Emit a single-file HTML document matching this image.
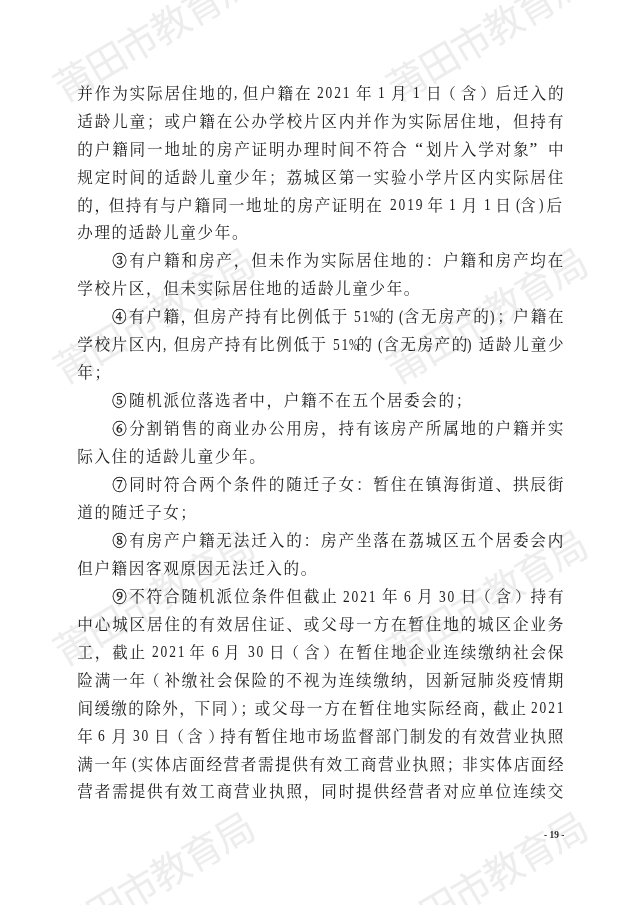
<!DOCTYPE html>
<html lang="zh-CN">
<head>
<meta charset="utf-8">
<title>莆田市教育局</title>
<style>
html,body{margin:0;padding:0;background:#fff;}
body{width:640px;height:905px;position:relative;overflow:hidden;}
.page{position:absolute;left:0;top:0;width:640px;height:905px;overflow:hidden;background:#fff;filter:grayscale(1);}
.wm{position:absolute;width:223.2px;height:38.8px;text-align:center;white-space:nowrap;font-family:"Liberation Sans","Noto Sans CJK SC",sans-serif;font-weight:400;font-size:38.8px;line-height:38.8px;letter-spacing:-1.6px;color:#ededed;transform:rotate(-30.5deg);}
.ln{position:absolute;left:0;width:640px;height:24.0px;line-height:24.0px;white-space:nowrap;color:#1c1c1c;}
.ln span{position:absolute;top:0;white-space:pre;}
.ln i{position:relative;font-style:normal;}
.ln b{font-weight:500;font-size:14.6px;display:inline-block;width:15.6px;text-align:center;letter-spacing:0;margin-right:1.83px;-webkit-text-stroke:0.3px #1c1c1c;}
.c{font-family:"Liberation Serif","Noto Serif CJK SC",serif;font-weight:400;font-size:15.6px;margin-top:0.0px;}
.l{font-family:"Liberation Serif","Noto Serif CJK SC",serif;font-size:17.7px;margin-top:-1.3px;display:inline-block;transform:scaleX(0.76);transform-origin:0 50%;letter-spacing:2.466px;}
.ln span.p{transform:scaleX(0.63);letter-spacing:0;}
.ln span.q{width:17.43px;transform:none;letter-spacing:0;}
.pn{position:absolute;white-space:pre;font-family:"Liberation Serif",serif;font-weight:bold;font-size:9.4px;line-height:12px;color:#2a2a2a;}
</style>
</head>
<body>
<div class="page">
<div class="wm" style="left:43.0px;top:15.5px">莆田市教育局</div>
<div class="wm" style="left:375.6px;top:15.5px">莆田市教育局</div>
<div class="wm" style="left:43.0px;top:297.8px">莆田市教育局</div>
<div class="wm" style="left:375.6px;top:297.8px">莆田市教育局</div>
<div class="wm" style="left:43.0px;top:580.1px">莆田市教育局</div>
<div class="wm" style="left:375.6px;top:580.1px">莆田市教育局</div>
<div class="wm" style="left:43.0px;top:862.4px">莆田市教育局</div>
<div class="wm" style="left:375.6px;top:862.4px">莆田市教育局</div>
<div class="ln" style="top:81.70px"><span class="c" style="left:77.32px;letter-spacing:1.83px">并作为实际居住地的</span><span class="l" style="left:233.77px">,</span><span class="c" style="left:242.78px;letter-spacing:1.83px">但户籍在</span><span class="l" style="left:317.09px">2021</span><span class="c" style="left:355.91px;letter-spacing:1.83px">年</span><span class="l" style="left:377.72px">1</span><span class="c" style="left:390.94px;letter-spacing:1.83px">月</span><span class="l" style="left:412.75px">1</span><span class="c" style="left:425.88px;letter-spacing:1.83px">日<i style="left:-3px">（</i>含<i style="left:2px">）</i>后迁入的</span></div>
<div class="ln" style="top:109.65px"><span class="c" style="left:77.31px;letter-spacing:1.83px">适龄儿童；或户籍在公办学校片区内并作为实际居住地，但持有</span></div>
<div class="ln" style="top:137.60px"><span class="c" style="left:77.32px;letter-spacing:1.83px">的户籍同一地址的房产证明办理时间不符合</span><span class="l q" style="left:405.57px;text-align:right">“</span><span class="c" style="left:425.92px;letter-spacing:1.83px">划片入学对象</span><span class="l q" style="left:529.58px;text-align:left">”</span><span class="c" style="left:547.92px;letter-spacing:1.83px">中</span></div>
<div class="ln" style="top:165.55px"><span class="c" style="left:77.31px;letter-spacing:1.83px">规定时间的适龄儿童少年；荔城区第一实验小学片区内实际居住</span></div>
<div class="ln" style="top:193.50px"><span class="c" style="left:77.20px;letter-spacing:1.60px">的，</span><span class="c" style="left:108.69px;letter-spacing:1.57px">但持有与户籍同一地址的房产证明在</span><span class="l" style="left:389.50px">2019</span><span class="c" style="left:427.60px;letter-spacing:1.60px">年</span><span class="l" style="left:449.00px">1</span><span class="c" style="left:461.80px;letter-spacing:1.60px">月</span><span class="l" style="left:483.60px">1</span><span class="c" style="left:495.30px;letter-spacing:1.60px">日</span><span class="l" style="left:515.60px">(</span><span class="c" style="left:520.00px;letter-spacing:1.60px">含</span><span class="l" style="left:538.60px">)</span><span class="c" style="left:546.40px;letter-spacing:1.60px">后</span></div>
<div class="ln" style="top:221.45px"><span class="c" style="left:77.20px;letter-spacing:1.60px">办理的适龄儿童少年。</span></div>
<div class="ln" style="top:249.40px"><span class="c" style="left:111.72px;letter-spacing:1.85px"><b>③</b>有户籍和房产，但未作为实际居住地的：户籍和房产均在</span></div>
<div class="ln" style="top:277.35px"><span class="c" style="left:77.20px;letter-spacing:1.60px">学校片区，但未实际居住地的适龄儿童少年。</span></div>
<div class="ln" style="top:305.30px"><span class="c" style="left:111.60px;letter-spacing:1.60px"><b>④</b>有户籍，</span><span class="c" style="left:193.54px;letter-spacing:1.68px">但房产持有比例低于</span><span class="l" style="left:354.30px">51</span><span class="l p" style="left:369.60px">%</span><span class="c" style="left:378.20px;letter-spacing:1.60px">的</span><span class="l" style="left:398.80px">(</span><span class="c" style="left:403.53px;letter-spacing:1.85px">含无房产的</span><span class="l" style="left:489.60px">)</span><span class="c" style="left:497.30px;letter-spacing:1.60px">；</span><span class="c" style="left:513.35px;letter-spacing:1.70px">户籍在</span></div>
<div class="ln" style="top:333.25px"><span class="c" style="left:77.20px;letter-spacing:1.60px">学校片区内</span><span class="l" style="left:163.00px">,</span><span class="c" style="left:173.38px;letter-spacing:1.55px">但房产持有比例低于</span><span class="l" style="left:333.00px">51</span><span class="l p" style="left:348.50px">%</span><span class="c" style="left:356.60px;letter-spacing:1.60px">的</span><span class="l" style="left:378.00px">(</span><span class="c" style="left:383.25px;letter-spacing:1.50px">含无房产的</span><span class="l" style="left:467.40px">)</span><span class="c" style="left:478.75px;letter-spacing:1.70px">适龄儿童少</span></div>
<div class="ln" style="top:361.20px"><span class="c" style="left:77.20px;letter-spacing:1.60px">年；</span></div>
<div class="ln" style="top:389.15px"><span class="c" style="left:111.60px;letter-spacing:1.60px"><b>⑤</b>随机派位落选者中，户籍不在五个居委会的；</span></div>
<div class="ln" style="top:417.10px"><span class="c" style="left:111.72px;letter-spacing:1.85px"><b>⑥</b>分割销售的商业办公用房，持有该房产所属地的户籍并实</span></div>
<div class="ln" style="top:445.05px"><span class="c" style="left:77.20px;letter-spacing:1.60px">际入住的适龄儿童少年。</span></div>
<div class="ln" style="top:473.00px"><span class="c" style="left:111.72px;letter-spacing:1.85px"><b>⑦</b>同时符合两个条件的随迁子女：暂住在镇海街道、拱辰街</span></div>
<div class="ln" style="top:500.95px"><span class="c" style="left:77.20px;letter-spacing:1.60px">道的随迁子女；</span></div>
<div class="ln" style="top:528.90px"><span class="c" style="left:111.72px;letter-spacing:1.85px"><b>⑧</b>有房产户籍无法迁入的：房产坐落在荔城区五个居委会内</span></div>
<div class="ln" style="top:556.85px"><span class="c" style="left:77.20px;letter-spacing:1.60px">但户籍因客观原因无法迁入的。</span></div>
<div class="ln" style="top:584.80px"><span class="c" style="left:111.73px;letter-spacing:1.87px"><b>⑨</b>不符合随机派位条件但截止</span><span class="l" style="left:343.30px">2021</span><span class="c" style="left:381.92px;letter-spacing:1.83px">年</span><span class="l" style="left:403.60px">6</span><span class="c" style="left:417.22px;letter-spacing:1.83px">月</span><span class="l" style="left:439.00px">30</span><span class="c" style="left:460.74px;letter-spacing:1.83px">日<i style="left:-3px">（</i>含<i style="left:2px">）</i>持有</span></div>
<div class="ln" style="top:612.75px"><span class="c" style="left:77.31px;letter-spacing:1.83px">中心城区居住的有效居住证、或父母一方在暂住地的城区企业务</span></div>
<div class="ln" style="top:640.70px"><span class="c" style="left:77.32px;letter-spacing:1.83px">工，截止</span><span class="l" style="left:152.00px">2021</span><span class="c" style="left:189.31px;letter-spacing:1.83px">年</span><span class="l" style="left:211.80px">6</span><span class="c" style="left:224.11px;letter-spacing:1.83px">月</span><span class="l" style="left:248.00px">30</span><span class="c" style="left:269.00px;letter-spacing:1.83px">日<i style="left:-3px">（</i>含<i style="left:2px">）</i>在暂住地企业连续缴纳社会保</span></div>
<div class="ln" style="top:668.65px"><span class="c" style="left:77.31px;letter-spacing:1.83px">险满一年<i style="left:-3px">（</i>补缴社会保险的不视为连续缴纳，因新冠肺炎疫情期</span></div>
<div class="ln" style="top:696.60px"><span class="c" style="left:77.48px;letter-spacing:1.35px">间缓缴的除外，</span><span class="c" style="left:194.60px;letter-spacing:1.60px">下同<i style="left:2px">）</i></span><span class="c" style="left:240.30px;letter-spacing:1.60px">；</span><span class="c" style="left:254.69px;letter-spacing:1.78px">或父母一方在暂住地实际经商，</span><span class="c" style="left:493.15px;letter-spacing:1.70px">截止</span><span class="l" style="left:531.30px">2021</span></div>
<div class="ln" style="top:724.55px"><span class="c" style="left:77.20px;letter-spacing:1.60px">年</span><span class="l" style="left:98.20px">6</span><span class="c" style="left:111.60px;letter-spacing:1.60px">月</span><span class="l" style="left:133.30px">30</span><span class="c" style="left:154.10px;letter-spacing:1.80px">日<i style="left:-3px">（</i></span><span class="c" style="left:187.00px;letter-spacing:1.60px">含</span><span class="c" style="left:206.30px;letter-spacing:1.60px"><i style="left:2px">）</i></span><span class="c" style="left:220.22px;letter-spacing:1.65px">持有暂住地市场监督部门制发的有效营业执照</span></div>
<div class="ln" style="top:752.50px"><span class="c" style="left:77.20px;letter-spacing:1.60px">满一年</span><span class="l" style="left:131.70px">(</span><span class="c" style="left:137.78px;letter-spacing:1.57px">实体店面经营者需提供有效工商营业执照；</span><span class="c" style="left:462.27px;letter-spacing:1.55px">非实体店面经</span></div>
<div class="ln" style="top:780.45px"><span class="c" style="left:77.31px;letter-spacing:1.83px">营者需提供有效工商营业执照，同时提供经营者对应单位连续交</span></div>
<div class="pn" style="left:544.0px;top:828.6px">- 19 -</div>
</div>
</body>
</html>
